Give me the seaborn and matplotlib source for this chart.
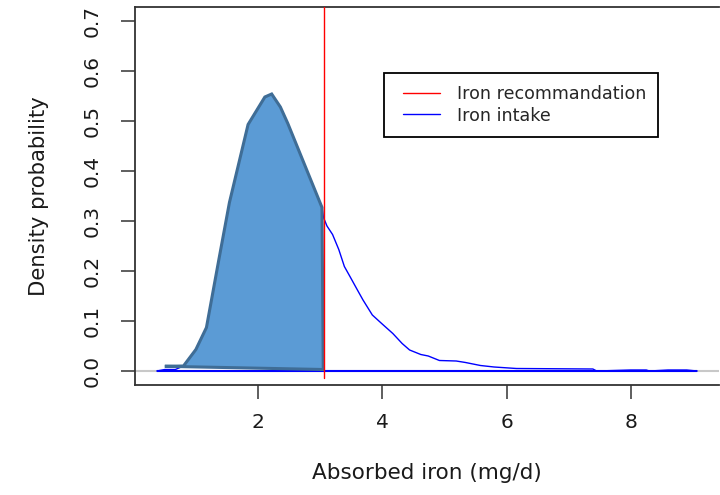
import matplotlib
matplotlib.use("Agg")
import matplotlib.pyplot as plt
import seaborn as sns
import pandas as pd
from matplotlib.lines import Line2D
from matplotlib.legend_handler import HandlerLine2D

# ---- data ----
dens_x = [0.37, 0.50, 0.67, 0.80, 1.00, 1.17, 1.37, 1.54, 1.84, 2.11, 2.22, 2.36,
          2.48, 3.03, 3.054, 3.11, 3.20, 3.30, 3.39, 3.48, 3.60, 3.69, 3.84, 3.99,
          4.17, 4.32, 4.44, 4.62, 4.74, 4.92, 5.19, 5.34, 5.58, 5.80, 6.16, 7.39,
          7.45, 8.00, 8.25, 8.30, 8.60, 8.90, 9.07]
dens_y = [0.000, 0.003, 0.003, 0.010, 0.043, 0.087, 0.223, 0.337, 0.493, 0.548,
          0.554, 0.528, 0.495, 0.327, 0.307, 0.290, 0.273, 0.243, 0.209, 0.189,
          0.162, 0.142, 0.112, 0.095, 0.075, 0.055, 0.042, 0.033, 0.030, 0.021,
          0.020, 0.017, 0.011, 0.008, 0.005, 0.004, 0.000, 0.002, 0.002, 0.000,
          0.002, 0.002, 0.000]

shade_x = [0.50, 0.80, 1.00, 1.17, 1.37, 1.54, 1.84, 2.11, 2.22, 2.36, 2.48, 3.03, 3.05]
shade_y = [0.0094, 0.010, 0.043, 0.087, 0.223, 0.337, 0.493, 0.548, 0.554, 0.528,
           0.495, 0.327, 0.003]

iron_recommendation = 3.06
y_ticks = [0.0, 0.1, 0.2, 0.3, 0.4, 0.5, 0.6, 0.7]
x_ticks = [2, 4, 6, 8]
legend_labels = ["Iron recommandation", "Iron intake"]

sns.set_theme(style="white")
plt.rcParams['font.family'] = ['DejaVu Sans']

fig = plt.figure(figsize=(7.2, 4.95), dpi=100)
ax = fig.add_axes([135/720, 110/495, (719-135)/720, (385-7)/495])

ax.axhline(0, color="#c8c8c8", lw=1.5, zorder=1)
ax.hlines(0, dens_x[0], dens_x[-1], color="blue", lw=1.5, zorder=2)

df = pd.DataFrame({"x": dens_x, "y": dens_y})
sns.lineplot(data=df, x="x", y="y", sort=False, color="blue", lw=1.0,
             ax=ax, zorder=2, label="_nolegend_")

ax.fill(shade_x, shade_y, facecolor="#5b9bd5", edgecolor="#3f6d96", lw=2.2, zorder=3)

ax.axvline(iron_recommendation, ymin=0.018, ymax=1, color="red", lw=1.0, zorder=4)

ax.set_xlim(0.02, 9.42)
ax.set_ylim(-0.028, 0.728)
ax.set_xticks(x_ticks)
ax.set_xticklabels([str(t) for t in x_ticks], fontsize=14.5)
ax.set_yticks(y_ticks)
ax.set_yticklabels([f"{t:.1f}" for t in y_ticks], fontsize=14.5, rotation=90, va="center")
ax.tick_params(axis="both", direction="out", length=10, width=1.1, color="#333333",
               bottom=True, left=True, labelcolor="#1a1a1a")
ax.tick_params(axis="x", pad=10.5)
ax.tick_params(axis="y", pad=14)

for s in ["left", "bottom", "top"]:
    ax.spines[s].set_color("#333333")
    ax.spines[s].set_linewidth(1.3)
ax.spines["right"].set_visible(False)

ax.set_xlabel("Absorbed iron (mg/d)", fontsize=15.5, labelpad=22, color="#1a1a1a")
ax.set_ylabel("Density probability", fontsize=15.2, labelpad=24, color="#1a1a1a")

handles = [Line2D([], [], color="red", lw=1.0), Line2D([], [], color="blue", lw=1.0)]
hm = {h: HandlerLine2D(xpad=0.40) for h in handles}
leg = fig.legend(handles, legend_labels, handler_map=hm,
                 loc="upper left", bbox_to_anchor=(384/720, 1-73/495),
                 frameon=True, fancybox=False, fontsize=12.6, handlelength=2.5,
                 handletextpad=0.95, borderpad=0.7, labelspacing=0.19,
                 borderaxespad=0)
leg.get_frame().set_edgecolor("black")
leg.get_frame().set_linewidth(1.3)
leg.get_frame().set_alpha(1)

fig.savefig("out.png", dpi=100)
